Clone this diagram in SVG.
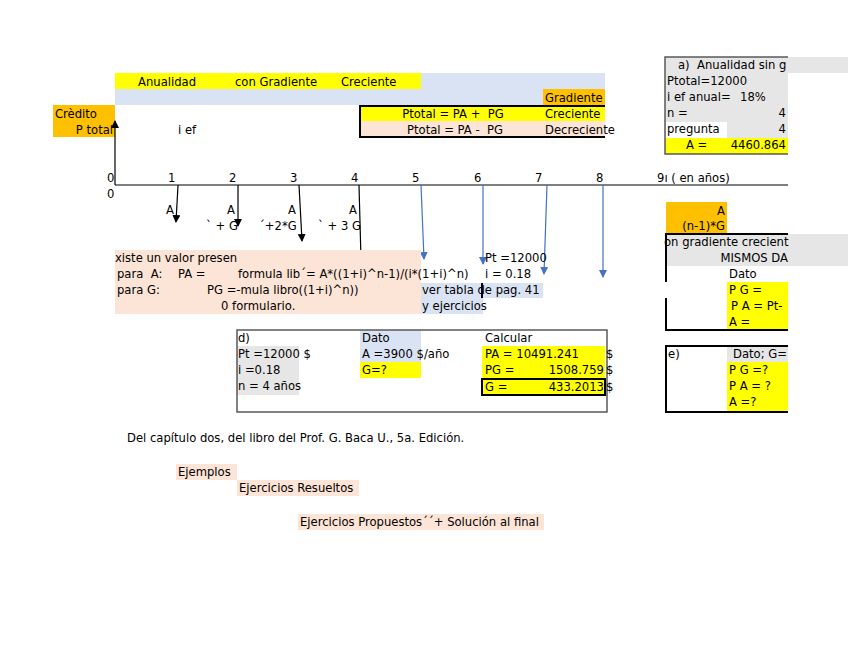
<svg xmlns="http://www.w3.org/2000/svg" width="848" height="655" viewBox="0 0 848 655" xml:space="preserve">
<style>
text{font-family:"DejaVu Sans","Liberation Sans",sans-serif;font-size:11.6px;fill:#000;white-space:pre}
.r{text-anchor:end}
.m{text-anchor:middle}
.ax{stroke:#000;stroke-width:1.2;fill:none}
.blk{stroke:#000;stroke-width:1.2;fill:none;marker-end:url(#ab)}
.blu{stroke:#4472c4;stroke-width:1.2;fill:none;marker-end:url(#au)}
</style>
<defs>
<marker id="ab" markerWidth="8" markerHeight="8" refX="7" refY="4" orient="auto" markerUnits="userSpaceOnUse" viewBox="0 0 8 8"><path d="M0,0 L8,4 L0,8 Z" fill="#000"/></marker>
<marker id="au" markerWidth="8" markerHeight="8" refX="7" refY="4" orient="auto" markerUnits="userSpaceOnUse" viewBox="0 0 8 8"><path d="M0,0 L8,4 L0,8 Z" fill="#4472c4"/></marker>
</defs>
<rect width="848" height="655" fill="#fff"/>
<g id="header">
<rect x="115" y="73" width="306" height="16" fill="#ffff00"/>
<rect x="421" y="73" width="184" height="16" fill="#dae3f3"/>
<rect x="115" y="89" width="490" height="16" fill="#dae3f3"/>
<text x="138" y="86">Anualidad</text>
<text x="235" y="86">con Gradiente</text>
<text x="341" y="86">Creciente</text>
</g>
<g id="credito">
<rect x="53" y="105" width="62" height="32" fill="#ffc000"/>
<text x="55" y="118">Crèdito</text>
<text x="113" y="134" class="r">P total</text>
<text x="178" y="134">i ef</text>
</g>
<g id="gradiente">
<rect x="543" y="89" width="62" height="16" fill="#ffc000"/>
<text x="545" y="102">Gradiente</text>
<rect x="360" y="106" width="245" height="15" fill="#ffff00"/>
<rect x="360" y="121" width="245" height="16" fill="#fce4d6"/>
<path d="M605,106 H360 V137 H605" fill="none" stroke="#000" stroke-width="2"/>
<text x="453" y="118" class="m">Ptotal = PA +  PG</text>
<text x="455" y="134" class="m">Ptotal = PA -  PG</text>
<text x="545" y="118">Creciente</text>
<text x="545" y="134">Decreciente</text>
</g>
<g id="panel-a">
<rect x="665" y="57" width="183" height="16" fill="#e7e6e6"/>
<rect x="665" y="73" width="123" height="65" fill="#e7e6e6"/>
<rect x="666" y="122" width="61" height="16" fill="#fff"/>
<rect x="665" y="138" width="123" height="16" fill="#ffff00"/>
<path d="M788,57 H665 V154 H788" fill="none" stroke="#595959" stroke-width="1.5"/>
<text x="678" y="69">a)  Anualidad sin g</text>
<text x="667" y="85">Ptotal=12000</text>
<text x="667" y="101">i ef anual=</text>
<text x="740" y="101">18%</text>
<text x="667" y="117">n =</text>
<text x="786" y="117" class="r">4</text>
<text x="667" y="133">pregunta</text>
<text x="786" y="133" class="r">4</text>
<text x="686" y="149">A =</text>
<text x="786" y="149" class="r">4460.864</text>
</g>
<g id="axis">
<line x1="115" y1="185" x2="788" y2="185" class="ax"/>
<line x1="115" y1="185" x2="115" y2="121" class="blk"/>
<text x="107" y="182">0</text>
<text x="107" y="198">0</text>
<text x="168" y="182">1</text>
<text x="229" y="182">2</text>
<text x="290" y="182">3</text>
<text x="351" y="182">4</text>
<text x="412" y="182">5</text>
<text x="474" y="182">6</text>
<text x="535" y="182">7</text>
<text x="596" y="182">8</text>
<text x="657" y="182">9ı ( en años)</text>
</g>
<g id="connectors">
<line x1="178" y1="185" x2="176" y2="222" class="blk"/>
<line x1="238" y1="185" x2="238" y2="226" class="blk"/>
<line x1="299" y1="185" x2="302" y2="241" class="blk"/>
<line x1="359" y1="185" x2="361" y2="259" class="blk"/>
<line x1="421" y1="185" x2="424" y2="259" class="blu"/>
<line x1="483" y1="185" x2="483" y2="264" class="blu"/>
<line x1="547" y1="185" x2="544" y2="274" class="blu"/>
<line x1="603" y1="185" x2="603" y2="277" class="blu"/>
</g>
<g id="labels">
<text x="166" y="214">A</text>
<text x="227" y="214">A</text>
<text x="288" y="214">A</text>
<text x="349" y="214">A</text>
<text x="206" y="230">` + G</text>
<text x="259" y="230">´+2*G</text>
<text x="318" y="230">` + 3 G</text>
</g>
<g id="formulas">
<rect x="115" y="250" width="306" height="64" fill="#fce4d6"/>
<text x="115" y="262">xiste un valor presen</text>
<text x="117" y="278">para  A:</text>
<text x="178" y="278">PA =</text>
<text x="238" y="278">formula lib´= A*((1+i)^n-1)/(i*(1+i)^n)</text>
<text x="117" y="294">para G:</text>
<text x="207" y="294">PG =-mula libro((1+i)^n))</text>
<text x="221" y="310">0 formulario.</text>
<rect x="421" y="283" width="122" height="15" fill="#dae3f3"/>
<rect x="421" y="298" width="62" height="16" fill="#dae3f3"/>
<line x1="482" y1="283" x2="482" y2="298" stroke="#000" stroke-width="2"/>
<text x="422" y="294">ver tabla de pag. 41</text>
<text x="422" y="310">y ejercicios</text>
<text x="485" y="262">Pt =12000</text>
<text x="485" y="278">i = 0.18</text>
</g>
<g id="panel-d">
<rect x="237" y="346" width="62" height="49" fill="#e7e6e6"/>
<rect x="360" y="330" width="61" height="32" fill="#dae3f3"/>
<rect x="360" y="362" width="61" height="16" fill="#ffff00"/>
<rect x="482" y="346" width="123" height="49" fill="#ffff00"/>
<rect x="482" y="379" width="123" height="16" fill="none" stroke="#000" stroke-width="2"/>
<rect x="237" y="330" width="370" height="82" fill="none" stroke="#595959" stroke-width="1.5"/>
<text x="238" y="342">d)</text>
<text x="238" y="358">Pt =12000 $</text>
<text x="238" y="374">i =0.18</text>
<text x="238" y="390">n = 4 años</text>
<text x="362" y="342">Dato</text>
<text x="362" y="358">A =3900 $/año</text>
<text x="362" y="374">G=?</text>
<text x="485" y="342">Calcular</text>
<text x="485" y="358">PA = 10491.241</text>
<text x="485" y="374">PG =</text>
<text x="604" y="374" class="r">1508.759</text>
<text x="485" y="391">G =</text>
<text x="604" y="391" class="r">433.2013</text>
<text x="606" y="358">$</text>
<text x="606" y="374">$</text>
<text x="606" y="391">$</text>
</g>
<g id="panel-c">
<rect x="666" y="202" width="61" height="32" fill="#ffc000"/>
<text x="725" y="215" class="r">A</text>
<text x="725" y="230" class="r">(n-1)*G</text>
<rect x="666" y="234" width="182" height="32" fill="#e7e6e6"/>
<rect x="727" y="282" width="61" height="48" fill="#ffff00"/>
<path d="M788,234 H666 V282 M666,298 V330 H788" fill="none" stroke="#000" stroke-width="2"/>
<text x="664" y="246">on gradiente crecient</text>
<text x="788" y="262" class="r">MISMOS DA</text>
<text x="729" y="278">Dato</text>
<text x="729" y="294">P G =</text>
<text x="731" y="310">P A = Pt-</text>
<text x="729" y="326">A =</text>
</g>
<g id="panel-e">
<rect x="727" y="346" width="61" height="16" fill="#e7e6e6"/>
<rect x="727" y="362" width="61" height="50" fill="#ffff00"/>
<path d="M788,346 H666 V412 H788" fill="none" stroke="#000" stroke-width="2"/>
<text x="668" y="358">e)</text>
<text x="733" y="358">Dato; G=</text>
<text x="729" y="374">P G =?</text>
<text x="729" y="390">P A = ?</text>
<text x="729" y="406">A =?</text>
</g>
<g id="footer">
<text x="127" y="442">Del capítulo dos, del libro del Prof. G. Baca U., 5a. Edición.</text>
<rect x="176" y="464" width="61" height="16" fill="#fce4d6"/>
<text x="178" y="476">Ejemplos</text>
<rect x="237" y="480" width="122" height="16" fill="#fce4d6"/>
<text x="239" y="492">Ejercicios Resueltos</text>
<rect x="298" y="514" width="246" height="16" fill="#fce4d6"/>
<text x="300" y="526">Ejercicios Propuestos´´+ Solución al final</text>
</g>
</svg>
